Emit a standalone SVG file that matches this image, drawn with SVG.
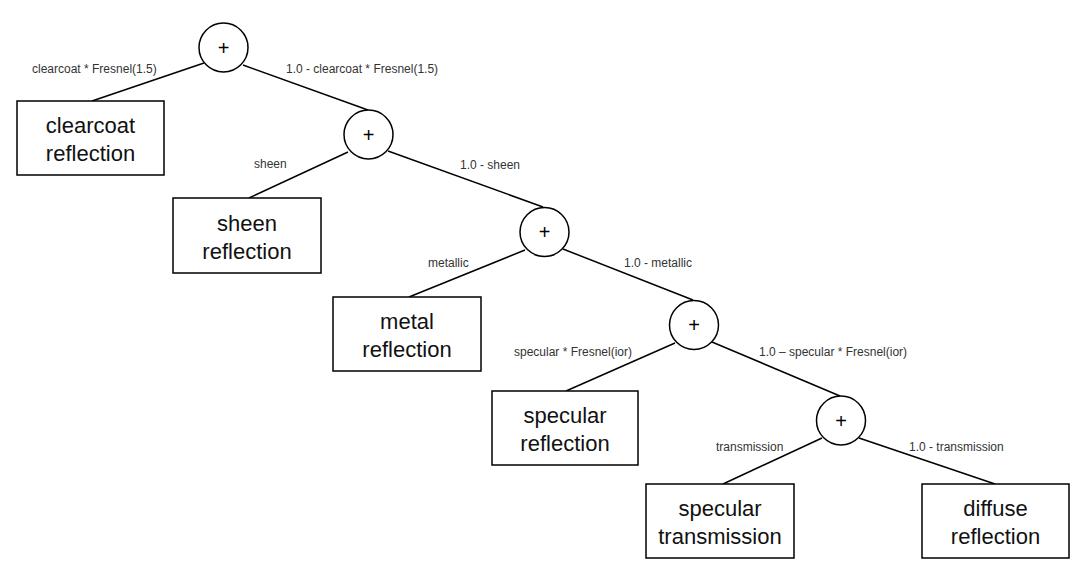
<svg xmlns="http://www.w3.org/2000/svg" width="1088" height="576" viewBox="0 0 1088 576">
<style>
.box{fill:#fff;stroke:#000;stroke-width:1.5}
.op{fill:#fff;stroke:#000;stroke-width:1.5}
.edge{stroke:#000;stroke-width:1.5;fill:none}
.bt{font-family:"Liberation Sans",Arial,sans-serif;font-size:22px;fill:#111;text-anchor:middle}
.pl{font-family:"Liberation Sans",Arial,sans-serif;font-size:20px;fill:#000;text-anchor:middle}
.lb{font-family:"Liberation Sans",Arial,sans-serif;font-size:12px;fill:#333}
</style>
<rect width="1088" height="576" fill="#fff"/>
<g id="connectors">
<line class="edge" x1="204" y1="63" x2="92" y2="101"/>
<line class="edge" x1="243" y1="65" x2="368" y2="110"/>
<line class="edge" x1="348" y1="152" x2="249" y2="198"/>
<line class="edge" x1="388" y1="151" x2="543" y2="207"/>
<line class="edge" x1="525" y1="250" x2="409" y2="297"/>
<line class="edge" x1="563" y1="249" x2="693" y2="300"/>
<line class="edge" x1="675" y1="343" x2="566" y2="391"/>
<line class="edge" x1="712" y1="342" x2="840" y2="396"/>
<line class="edge" x1="822" y1="438" x2="723" y2="484"/>
<line class="edge" x1="859" y1="438" x2="995" y2="484"/>
<text class="lb" x="32" y="73">clearcoat * Fresnel(1.5)</text>
<text class="lb" x="286" y="73">1.0 - clearcoat * Fresnel(1.5)</text>
<text class="lb" x="254" y="168">sheen</text>
<text class="lb" x="460" y="169">1.0 - sheen</text>
<text class="lb" x="428" y="267">metallic</text>
<text class="lb" x="624" y="267">1.0 - metallic</text>
<text class="lb" x="514" y="356">specular * Fresnel(ior)</text>
<text class="lb" x="759" y="356">1.0 – specular * Fresnel(ior)</text>
<text class="lb" x="716" y="451">transmission</text>
<text class="lb" x="909" y="451">1.0 - transmission</text>
</g>
<g id="op1"><circle class="op" cx="223.5" cy="47.5" r="24.5"/><text class="pl" x="223.5" y="54.5">+</text></g>
<g id="op2"><circle class="op" cx="368.5" cy="134.5" r="24.5"/><text class="pl" x="368.5" y="141.5">+</text></g>
<g id="op3"><circle class="op" cx="544.5" cy="232" r="24.5"/><text class="pl" x="544.5" y="239">+</text></g>
<g id="op4"><circle class="op" cx="694" cy="325" r="24.5"/><text class="pl" x="694" y="332">+</text></g>
<g id="op5"><circle class="op" cx="841" cy="420.5" r="24.5"/><text class="pl" x="841" y="427.5">+</text></g>
<g id="clearcoat"><rect class="box" x="17" y="101" width="147" height="74"/><text class="bt" x="90.5" y="133">clearcoat</text><text class="bt" x="90.5" y="161">reflection</text></g>
<g id="sheen"><rect class="box" x="173" y="198" width="148" height="75"/><text class="bt" x="247" y="230.5">sheen</text><text class="bt" x="247" y="258.5">reflection</text></g>
<g id="metal"><rect class="box" x="333" y="297" width="148" height="74"/><text class="bt" x="407" y="329">metal</text><text class="bt" x="407" y="357">reflection</text></g>
<g id="specular"><rect class="box" x="492" y="391" width="146" height="74"/><text class="bt" x="565" y="423">specular</text><text class="bt" x="565" y="451">reflection</text></g>
<g id="spectrans"><rect class="box" x="646" y="484" width="148" height="74"/><text class="bt" x="720" y="516">specular</text><text class="bt" x="720" y="544">transmission</text></g>
<g id="diffuse"><rect class="box" x="922" y="484" width="147" height="74"/><text class="bt" x="995.5" y="516">diffuse</text><text class="bt" x="995.5" y="544">reflection</text></g>
</svg>
